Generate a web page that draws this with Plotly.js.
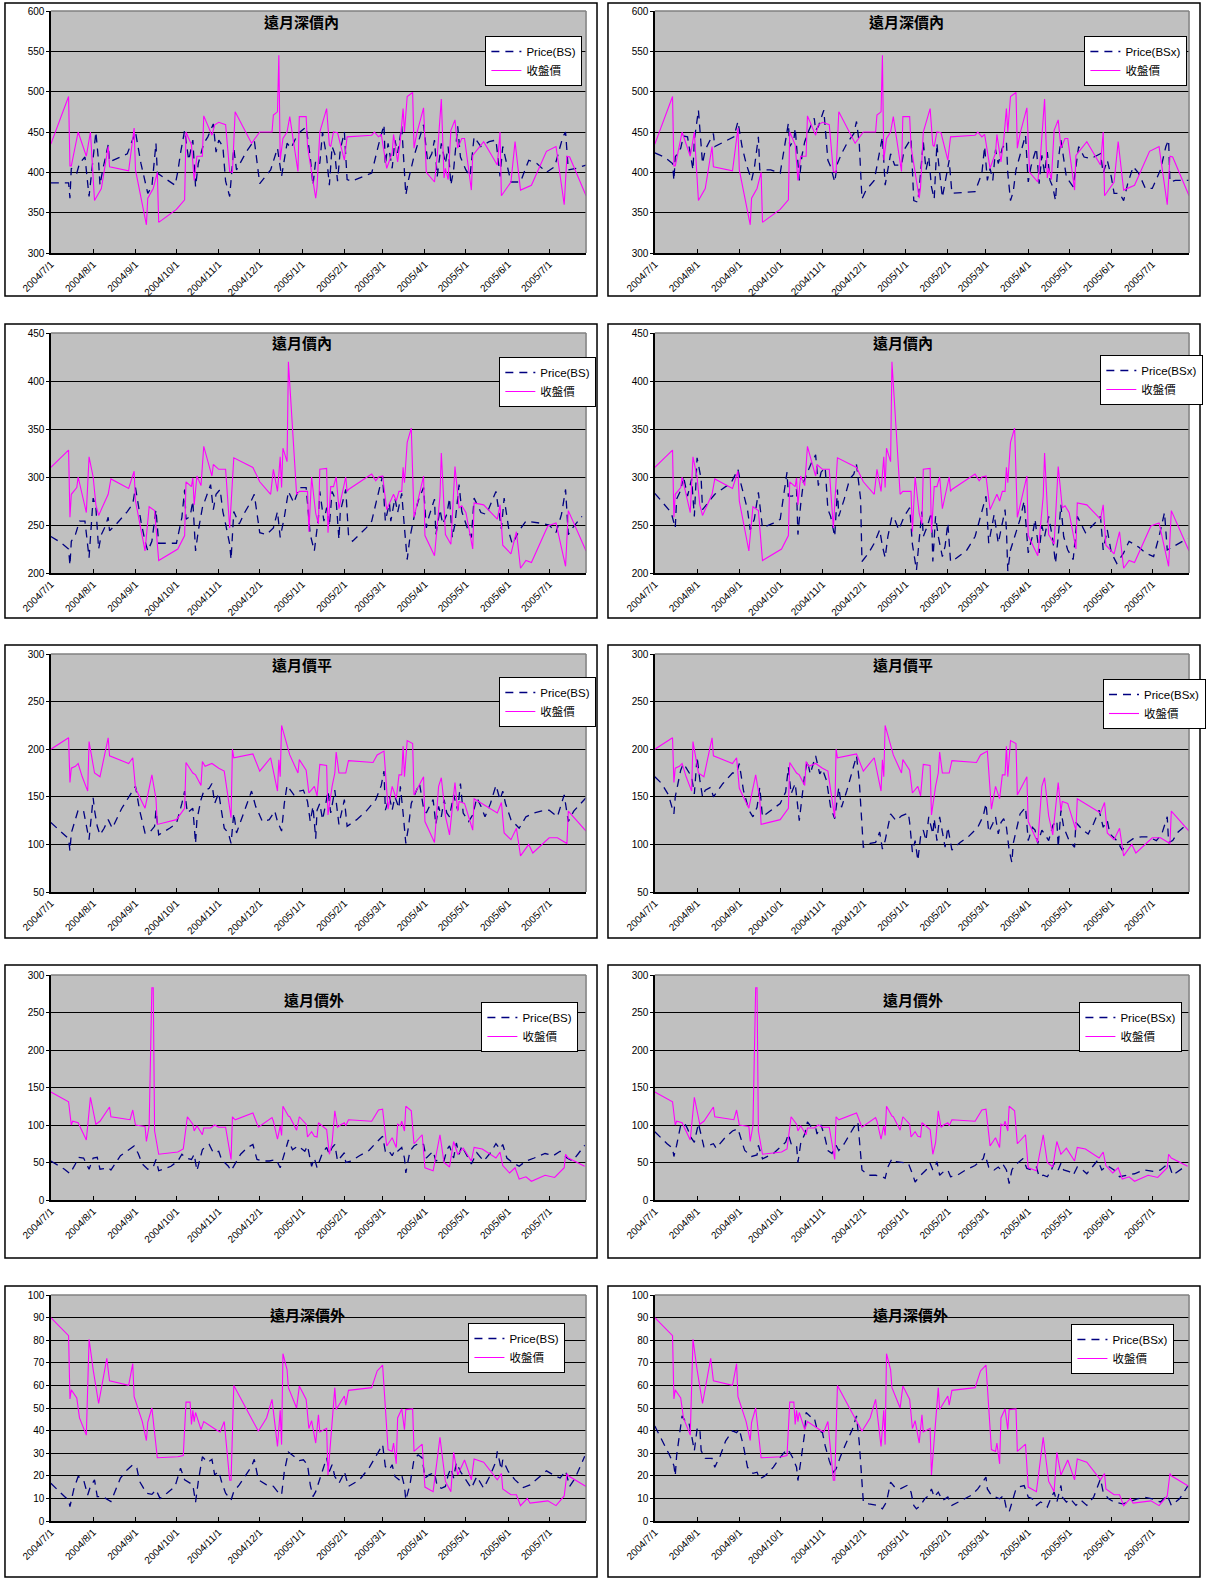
<!DOCTYPE html>
<html><head><meta charset="utf-8">
<script src="https://cdn.plot.ly/plotly-3.0.1.min.js"></script>
<style>html,body{margin:0;padding:0;background:#fff}#chart{width:1206px;height:1579px}</style>
</head><body><div id="chart"></div>
<script>
// ---------- DATA (x = trading-day offset from 2004/7/1, y = price) ----------
const startDate = '2004-07-01';
const lastDay = 392;
const monthTickLabels = ['2004/7/1','2004/8/1','2004/9/1','2004/10/1','2004/11/1','2004/12/1','2005/1/1','2005/2/1','2005/3/1','2005/4/1','2005/5/1','2005/6/1','2005/7/1'];
const panelTitles = ['遠月深價內','遠月價內','遠月價平','遠月價外','遠月深價外'];
const seriesNames = ['Price(BS)','Price(BSx)','收盤價'];

// 遠月深價內
const deepItmClose = [[0,435],[13,494],[14,408],[15,408],[20,450],[26,420],[29,450],[32,365],[37,380],[42,432],[43,407],[57,402],[61,455],[62,403],[70,335],[71,368],[75,380],[78,400],[79,338],[92,354],[98,366],[99,450],[103,434],[105,390],[107,420],[111,420],[112,470],[118,446],[120,459],[123,462],[128,459],[131,401],[133,400],[135,475],[147,436],[153,450],[162,450],[163,471],[166,475],[167,545],[168,415],[170,442],[173,450],[175,469],[181,401],[182,469],[187,469],[188,432],[194,368],[195,382],[197,450],[202,479],[204,434],[205,432],[207,450],[210,449],[215,415],[217,444],[235,446],[237,450],[240,444],[242,447],[246,405],[250,424],[251,447],[254,413],[256,440],[258,479],[259,450],[261,494],[265,499],[266,430],[268,448],[273,480],[275,400],[281,388],[283,420],[286,491],[288,393],[289,405],[291,391],[293,452],[296,465],[298,430],[301,442],[303,442],[308,378],[309,421],[317,438],[327,409],[329,450],[330,371],[337,388],[340,438],[344,378],[352,384],[363,426],[370,432],[376,360],[378,420],[380,419],[392,371]];
const deepItmBS = [[0,387],[7,387],[13,387],[14,368],[15,405],[19,399],[21,411],[25,419],[28,370],[33,450],[35,413],[36,384],[38,403],[42,434],[43,413],[56,423],[62,450],[66,411],[71,374],[74,382],[77,436],[78,399],[91,384],[93,401],[95,424],[98,452],[101,415],[104,440],[106,382],[108,411],[112,436],[115,444],[119,460],[121,425],[123,440],[126,432],[128,389],[131,370],[134,430],[136,403],[143,425],[149,440],[153,386],[161,403],[166,430],[169,395],[173,436],[176,430],[181,448],[187,456],[190,419],[192,384],[194,415],[197,411],[199,450],[202,419],[204,384],[206,432],[208,423],[210,389],[212,428],[215,450],[217,391],[220,389],[235,399],[240,434],[244,459],[245,409],[247,436],[250,405],[252,440],[254,424],[257,457],[260,372],[262,391],[266,420],[273,459],[276,413],[279,423],[281,440],[283,395],[286,436],[289,411],[291,432],[293,384],[295,403],[298,457],[300,419],[304,403],[307,395],[310,444],[315,432],[321,438],[326,440],[329,395],[331,432],[335,405],[337,388],[344,388],[350,415],[356,411],[363,400],[369,407],[375,444],[377,450],[379,403],[385,405],[392,409]];
const deepItmBSx = [[0,424],[7,419],[13,411],[14,390],[15,419],[19,430],[21,445],[24,444],[28,403],[29,440],[32,477],[34,432],[35,411],[37,428],[43,448],[44,432],[58,444],[61,463],[64,432],[67,411],[71,390],[73,405],[76,444],[77,403],[85,403],[92,399],[96,444],[98,461],[99,432],[102,440],[103,455],[106,390],[108,421],[110,438],[113,452],[117,467],[118,452],[120,457],[124,477],[126,442],[127,415],[129,407],[132,388],[134,411],[137,423],[141,436],[146,448],[148,463],[150,436],[152,367],[155,378],[161,390],[165,423],[167,444],[169,384],[172,411],[173,423],[176,409],[181,409],[183,428],[188,442],[190,365],[193,363],[195,399],[197,438],[199,403],[201,419],[203,382],[205,367],[207,436],[208,415],[211,369],[213,388],[216,415],[218,374],[230,376],[235,376],[240,399],[242,432],[244,390],[246,405],[248,390],[250,428],[252,411],[255,430],[258,438],[259,399],[261,365],[263,376],[265,403],[268,423],[272,446],[274,388],[276,407],[278,419],[280,430],[282,386],[284,421],[286,399],[288,425],[290,390],[292,382],[294,365],[296,415],[298,440],[300,415],[302,394],[307,382],[311,432],[315,419],[320,417],[327,423],[329,399],[332,415],[335,394],[337,374],[341,374],[344,365],[347,386],[351,407],[355,399],[360,380],[365,380],[371,403],[375,432],[377,440],[378,388],[382,390],[392,390]];

// 遠月價內
const itmClose = [[0,310],[13,328],[14,258],[15,282],[19,289],[20,300],[26,263],[28,321],[31,300],[33,271],[35,260],[42,282],[44,298],[57,288],[61,306],[62,275],[69,223],[72,269],[76,265],[79,213],[93,225],[98,239],[99,295],[103,290],[104,299],[105,271],[107,301],[110,291],[112,332],[118,301],[119,313],[123,308],[128,308],[131,247],[134,320],[148,310],[153,295],[161,282],[163,308],[166,285],[168,321],[169,289],[170,330],[173,316],[174,420],[180,282],[182,285],[188,285],[189,243],[191,300],[194,262],[196,251],[197,308],[202,309],[203,242],[205,290],[207,290],[209,300],[211,267],[216,300],[217,285],[218,287],[235,303],[238,296],[240,300],[243,301],[246,266],[251,282],[253,275],[255,285],[257,285],[258,310],[259,294],[261,336],[264,351],[266,258],[273,301],[274,239],[281,218],[285,280],[286,325],[289,240],[293,230],[296,311],[299,268],[301,270],[304,263],[309,225],[310,273],[317,271],[327,256],[329,271],[331,229],[337,220],[341,243],[344,205],[348,213],[352,211],[364,249],[370,252],[377,207],[379,265],[392,223]];
const itmBS = [[0,238],[7,232],[13,225],[14,208],[15,233],[18,240],[21,254],[25,254],[28,216],[31,278],[33,268],[35,225],[37,240],[40,249],[42,258],[43,244],[48,251],[56,264],[60,272],[62,289],[66,254],[69,233],[71,223],[74,233],[77,266],[79,231],[92,231],[96,258],[98,287],[99,256],[102,259],[104,275],[106,223],[108,244],[111,268],[114,280],[117,292],[119,266],[121,282],[124,287],[126,264],[128,251],[131,230],[132,214],[134,264],[138,251],[142,263],[146,273],[149,282],[153,242],[158,240],[163,247],[166,264],[168,237],[171,258],[174,285],[178,273],[182,289],[187,289],[190,240],[193,223],[196,258],[197,285],[200,254],[202,268],[204,249],[206,285],[209,275],[211,235],[212,264],[216,287],[218,240],[221,233],[231,247],[235,254],[241,290],[243,301],[245,254],[248,273],[249,254],[252,278],[254,263],[257,283],[259,247],[261,214],[263,237],[266,258],[269,275],[273,289],[275,247],[277,259],[281,277],[282,240],[285,266],[287,251],[290,261],[292,278],[294,237],[296,251],[299,292],[301,264],[305,247],[308,237],[310,278],[315,263],[319,261],[326,285],[330,246],[332,278],[336,240],[338,230],[343,244],[348,254],[358,252],[365,250],[370,242],[374,261],[377,287],[379,240],[381,245],[389,259]];
const itmBSx = [[0,283],[6,273],[12,263],[15,247],[16,277],[19,286],[21,301],[24,280],[27,298],[29,259],[31,320],[34,298],[35,266],[40,275],[44,282],[49,287],[56,294],[61,308],[63,294],[68,266],[70,245],[73,256],[76,284],[79,247],[87,252],[92,256],[95,284],[97,305],[98,280],[101,280],[104,287],[105,240],[107,271],[109,294],[112,305],[115,315],[118,323],[120,291],[122,305],[125,310],[127,266],[129,259],[132,238],[134,287],[135,259],[139,277],[143,298],[146,303],[148,313],[151,277],[152,212],[157,221],[161,231],[165,245],[167,228],[169,216],[171,238],[174,259],[176,256],[179,245],[183,259],[187,268],[189,230],[192,203],[194,235],[196,264],[197,238],[200,249],[203,263],[204,212],[206,259],[208,238],[211,217],[213,228],[215,252],[217,212],[220,214],[229,224],[235,238],[239,259],[243,280],[245,231],[247,245],[249,261],[252,231],[254,245],[257,266],[258,245],[259,202],[261,224],[264,238],[268,256],[271,275],[274,221],[277,238],[279,256],[282,221],[284,249],[286,238],[289,259],[292,235],[294,210],[296,238],[298,271],[300,238],[303,224],[307,214],[310,259],[316,242],[323,252],[327,259],[329,224],[332,245],[335,221],[339,210],[344,221],[348,233],[355,227],[360,221],[366,217],[370,238],[374,263],[376,224],[380,227],[391,236]];

// 遠月價平
const atmClose = [[0,200],[13,212],[14,165],[15,180],[18,182],[20,185],[23,171],[27,156],[28,208],[32,175],[36,171],[42,212],[43,193],[57,185],[60,191],[62,159],[69,138],[71,152],[74,173],[77,148],[78,121],[92,126],[98,138],[99,186],[104,175],[106,173],[110,162],[111,187],[113,182],[118,185],[123,180],[127,177],[132,128],[133,200],[134,191],[148,195],[153,177],[161,191],[163,178],[166,156],[167,189],[168,171],[169,225],[175,194],[181,175],[182,189],[187,178],[189,154],[193,161],[195,151],[197,184],[202,183],[203,131],[206,161],[208,175],[209,197],[211,175],[216,175],[218,188],[236,186],[239,194],[244,198],[247,137],[250,161],[253,148],[255,173],[257,173],[258,203],[259,171],[261,209],[265,206],[266,152],[273,171],[274,124],[281,102],[284,161],[286,170],[289,130],[292,110],[296,165],[298,135],[299,145],[303,143],[309,115],[310,148],[327,133],[330,144],[332,112],[337,105],[341,117],[344,88],[350,100],[353,91],[365,107],[371,107],[378,101],[379,135],[392,114]];
const atmBS = [[0,123],[4,118],[8,112],[13,106],[14,93],[15,112],[20,136],[24,135],[28,105],[31,149],[32,136],[34,119],[36,110],[39,117],[42,126],[45,117],[52,138],[57,150],[62,161],[65,136],[69,112],[72,112],[76,119],[77,136],[79,110],[87,117],[92,122],[96,143],[98,156],[100,133],[104,138],[106,101],[107,126],[110,147],[112,156],[116,159],[118,164],[120,143],[123,154],[125,135],[127,117],[130,112],[132,101],[134,133],[136,112],[139,124],[143,140],[147,156],[150,140],[155,124],[160,126],[164,135],[166,124],[169,114],[171,143],[173,162],[178,152],[182,156],[185,157],[188,145],[190,124],[192,140],[194,106],[195,136],[197,143],[199,126],[201,140],[203,156],[205,133],[207,147],[208,157],[211,121],[213,135],[215,147],[217,119],[224,126],[231,135],[238,147],[242,162],[244,177],[245,136],[248,150],[250,136],[252,150],[255,138],[256,161],[258,133],[260,101],[262,119],[264,143],[267,154],[270,164],[273,138],[275,133],[278,142],[280,147],[282,121],[284,140],[286,129],[288,147],[290,133],[292,129],[295,152],[298,136],[300,164],[302,133],[306,124],[309,131],[312,149],[315,140],[318,129],[322,143],[326,162],[329,147],[331,156],[333,143],[337,126],[343,117],[348,129],[354,133],[359,135],[365,136],[371,129],[376,152],[379,124],[383,135],[392,149]];
const atmBSx = [[0,171],[5,164],[10,152],[14,132],[15,150],[19,178],[21,185],[24,178],[27,171],[29,153],[31,192],[33,168],[35,150],[37,157],[41,160],[43,150],[50,164],[57,175],[60,175],[62,185],[65,157],[69,136],[72,129],[75,139],[77,160],[79,129],[86,137],[92,143],[96,155],[98,181],[100,153],[103,164],[106,125],[108,150],[110,174],[112,188],[114,174],[118,193],[121,174],[123,179],[126,167],[129,139],[132,127],[135,160],[137,139],[141,157],[144,172],[148,193],[150,167],[152,125],[153,97],[158,101],[162,102],[165,113],[167,95],[169,104],[171,118],[173,132],[177,125],[181,130],[186,133],[187,123],[189,92],[191,104],[193,83],[195,108],[197,115],[199,104],[201,129],[204,111],[205,127],[207,104],[209,129],[211,111],[213,97],[215,118],[218,94],[224,102],[230,108],[237,118],[241,130],[243,143],[245,113],[248,122],[250,129],[252,111],[254,123],[256,127],[258,118],[260,94],[262,81],[263,101],[266,118],[268,132],[272,139],[274,104],[277,118],[279,115],[281,101],[284,115],[286,111],[289,104],[292,120],[295,125],[296,97],[298,136],[300,118],[304,104],[308,97],[309,123],[314,115],[318,111],[322,122],[326,136],[329,118],[332,125],[334,111],[339,104],[343,94],[347,102],[351,106],[357,108],[362,108],[368,104],[372,111],[376,129],[377,102],[380,104],[384,113],[391,122]];

// 遠月價外
const otmClose = [[0,144],[13,131],[15,100],[16,105],[20,103],[26,80],[29,137],[33,101],[36,105],[43,124],[44,111],[58,107],[60,120],[62,100],[69,98],[70,78],[72,99],[74,283],[75,283],[76,92],[79,61],[93,64],[97,68],[100,111],[104,101],[105,92],[107,99],[111,87],[112,96],[117,96],[120,100],[123,97],[128,97],[132,54],[133,111],[135,107],[148,116],[152,97],[162,110],[163,105],[166,81],[168,99],[169,86],[170,125],[174,112],[175,111],[180,93],[182,111],[187,101],[188,84],[191,91],[193,85],[195,84],[196,103],[202,94],[204,61],[206,76],[208,119],[210,97],[212,100],[215,103],[216,99],[218,107],[235,105],[240,120],[243,121],[246,72],[250,83],[253,70],[254,101],[256,99],[257,105],[259,92],[260,125],[264,119],[266,75],[272,87],[274,43],[280,39],[285,87],[288,50],[292,44],[295,78],[298,61],[302,69],[308,52],[310,70],[316,68],[326,56],[329,64],[331,46],[336,36],[340,43],[343,28],[348,31],[352,25],[362,33],[369,30],[376,43],[377,61],[379,56],[391,45]];
const otmBS = [[0,52],[6,45],[10,41],[14,35],[18,48],[20,57],[24,56],[28,41],[31,56],[34,57],[36,41],[42,43],[44,40],[51,59],[57,67],[61,72],[64,62],[67,48],[71,41],[75,44],[77,54],[79,39],[88,45],[93,52],[96,61],[99,56],[103,54],[105,61],[107,39],[111,67],[113,71],[116,74],[119,63],[123,65],[125,54],[130,45],[132,39],[135,48],[139,61],[144,70],[148,74],[151,54],[155,52],[160,52],[165,54],[168,43],[171,61],[174,80],[177,67],[181,72],[186,65],[188,72],[191,45],[193,56],[195,43],[197,53],[199,63],[202,70],[204,61],[206,70],[208,74],[210,52],[212,56],[215,63],[216,50],[220,52],[226,59],[233,66],[237,74],[243,85],[245,65],[247,67],[250,59],[252,67],[254,65],[257,70],[259,56],[260,36],[263,65],[266,72],[270,76],[273,74],[275,56],[278,61],[280,65],[282,52],[285,54],[288,52],[290,67],[292,72],[295,56],[297,76],[299,61],[301,72],[304,61],[308,48],[312,63],[317,52],[322,63],[326,75],[329,68],[331,74],[334,56],[338,50],[343,45],[348,52],[354,56],[362,62],[368,59],[373,65],[378,56],[382,52],[386,61],[391,73]];
const otmBSx = [[0,91],[5,82],[9,75],[13,69],[14,58],[16,73],[19,100],[22,102],[24,95],[27,82],[29,77],[32,102],[34,88],[36,71],[40,73],[43,75],[45,69],[51,82],[57,92],[61,95],[64,77],[66,66],[71,58],[75,60],[76,73],[79,55],[87,62],[92,71],[96,77],[98,88],[100,75],[104,73],[105,50],[107,75],[110,88],[112,104],[115,97],[118,97],[119,88],[122,100],[125,82],[127,66],[130,62],[133,73],[135,66],[139,75],[143,88],[147,100],[149,104],[151,66],[152,40],[157,33],[162,33],[167,31],[169,29],[171,44],[174,55],[177,51],[181,50],[186,49],[189,35],[191,24],[194,31],[196,35],[199,40],[202,49],[204,40],[206,46],[207,51],[209,33],[212,38],[215,40],[217,31],[222,33],[228,40],[235,46],[241,55],[242,62],[245,44],[247,44],[249,40],[252,44],[254,40],[256,46],[258,40],[260,22],[262,40],[264,46],[267,51],[270,55],[273,42],[277,40],[280,44],[282,31],[285,33],[288,31],[291,40],[293,49],[296,40],[298,49],[300,40],[304,38],[307,33],[310,44],[314,40],[317,35],[321,44],[325,53],[328,40],[332,46],[337,40],[341,31],[346,33],[352,35],[359,40],[366,38],[371,40],[377,49],[380,33],[385,40],[390,46]];

// 遠月深價外
const deepOtmClose = [[0,90],[13,82],[14,54],[15,58],[19,54.5],[21,45.6],[26,38],[28,80.4],[31,67],[35,52],[41,72],[43,62],[57,60],[60,69.6],[61,55],[67,44],[70,35.6],[71,43.7],[74,50],[78,28],[93,28.4],[97,29],[99,52.6],[102,52.6],[103,42.7],[104,49],[105,44],[106,48],[110,40.4],[112,44],[121,40.4],[124,39.4],[127,44],[131,18],[132,18],[134,60],[152,39.7],[158,45.6],[162,53.8],[165,36],[166,33],[168,49],[169,33.8],[170,74],[173,67],[174,59],[180,50],[182,59.7],[187,53.8],[189,40.9],[191,44.4],[194,34.5],[196,47],[197,39.4],[202,41],[203,20.4],[208,59],[209,49.3],[215,55.3],[216,51.3],[218,57.8],[235,59],[239,66.4],[243,69],[247,31.6],[250,30.8],[251,34.5],[253,25.3],[254,45.6],[257,49.6],[259,40.4],[260,49.3],[265,49.6],[266,30.8],[272,34],[274,15],[280,13],[285,37],[289,17.5],[293,13],[295,30.4],[298,20.4],[303,27],[308,18.2],[310,27.4],[317,26],[327,18.2],[330,21],[331,14.2],[337,11.6],[341,11.6],[344,6.8],[349,10],[351,7.9],[364,8.9],[370,6.8],[376,11.1],[378,21],[379,20],[392,15.3]];
const deepOtmBS = [[0,16.7],[6,13],[10,10.8],[13,9.3],[14,6.4],[17,14.5],[20,19.7],[24,18.2],[27,11.5],[29,15.3],[32,18.2],[34,10.8],[38,10.8],[44,8.6],[47,13],[51,19],[56,22.7],[60,24.9],[63,23.4],[65,17.5],[70,12.3],[74,11.8],[77,13.8],[80,10],[85,12.3],[91,15.3],[95,23.4],[98,18.2],[104,16],[106,8.3],[108,17.5],[111,28.4],[115,25.9],[118,27.3],[120,20.4],[123,21.9],[125,17.5],[128,12.3],[132,9.3],[134,13],[138,16],[142,19.7],[147,24.1],[149,27.3],[152,18.2],[158,16],[163,15.3],[166,13],[169,11.5],[171,21.9],[174,30.5],[178,28.6],[182,26.7],[185,27.1],[188,24.9],[190,16],[192,10.8],[194,13],[196,16.7],[199,22.7],[202,27.9],[204,21.9],[206,24.9],[208,19.7],[211,16.7],[213,19],[215,21.9],[218,15.3],[226,18.2],[233,23.4],[239,29.3],[243,33.8],[245,24.1],[248,22.7],[250,24.9],[252,19.7],[255,18.2],[257,20.4],[259,15.3],[260,9.3],[263,16],[266,27.3],[269,29.3],[272,27.9],[274,19],[277,20.4],[281,21.5],[283,15.3],[286,14.5],[289,15.3],[291,20.4],[293,23.4],[295,19],[297,25.8],[300,21.9],[303,19],[308,14.5],[312,19.7],[317,14.5],[322,20.4],[326,26.4],[327,30.8],[330,22.7],[331,27.1],[335,21.9],[340,18.2],[346,14.8],[351,16],[357,19],[363,22.2],[368,20.4],[373,19],[377,22.2],[380,15.3],[384,19],[391,28.6]];
const deepOtmBSx = [[0,42],[3,38.4],[7,33.3],[11,28.9],[14,24.5],[15,20],[16,28.9],[18,37.7],[20,46.5],[23,43.5],[25,43.5],[27,37.7],[29,31.1],[31,40.6],[33,41.3],[34,31.1],[37,27.7],[42,27.7],[44,23.8],[48,28.9],[52,35.5],[57,39.9],[60,39.1],[62,40.6],[65,33.3],[68,23.8],[72,21.1],[75,21.6],[77,18.6],[81,20],[87,23.8],[92,28.2],[97,31.8],[99,30.4],[101,28.2],[104,23.8],[105,17.9],[107,26],[110,39.1],[111,48],[115,45.7],[117,45.7],[119,40.6],[123,39.1],[125,33.3],[128,26.7],[131,21.6],[133,23],[136,28.2],[140,34],[145,40.6],[148,46.5],[150,34.8],[152,17.2],[153,8.4],[157,7.6],[163,6.9],[167,5.4],[170,8.4],[173,17.2],[176,15],[180,14.2],[185,15.7],[188,12.8],[190,6.9],[192,5.4],[195,6.9],[198,9.8],[201,11.3],[203,14.2],[205,10.6],[208,12.8],[211,9.1],[213,9.8],[215,10.6],[218,6.9],[225,9.1],[232,11.3],[237,14.2],[243,19.4],[244,14.2],[247,11.3],[250,10.6],[253,9.8],[256,11.3],[258,5.4],[260,4],[262,8.4],[265,14.2],[267,15],[271,15.7],[274,10.6],[277,9.8],[280,6.9],[283,8.4],[286,7.6],[288,6.2],[291,10.6],[293,12.8],[295,8.4],[298,15.7],[299,10.6],[302,8.4],[305,9.8],[309,6.9],[313,9.1],[317,6.9],[322,10.6],[327,18.6],[329,12.8],[333,9.8],[337,8.4],[343,7.6],[348,8.4],[354,9.8],[359,10.6],[365,9.8],[371,8.4],[376,11.3],[379,6.9],[385,9.8],[391,15.4]];

const closeSeries = [deepItmClose, itmClose, atmClose, otmClose, deepOtmClose];
const bsSeries = [deepItmBS, itmBS, atmBS, otmBS, deepOtmBS];
const bsxSeries = [deepItmBSx, itmBSx, atmBSx, otmBSx, deepOtmBSx];
const yRanges = [[300,600],[200,450],[50,300],[0,300],[0,100]];
const yDticks = [50,50,50,50,10];

// ---------- LAYOUT (pixel geometry of the page) ----------
const W = 1206, H = 1579;
const colPlotX = [[51,588],[657,1193]];
const rowPlotY = [[11,253],[333,573],[654,892],[975,1200],[1295,1521]];
const colBoxX = [[5,599],[610,1204]];
const rowBoxY = [[3,296],[324,618],[645,938],[965,1258],[1286,1577]];
const legendPos = [[[487,36],[1088,36]],[[501,357],[1104,355]],[[501,677],[1107,679]],[[483,1002],[1083,1002]],[[470,1323],[1075,1324]]];
const titlePos = [[[303,22],[910,22]],[[303,343],[906,343]],[[303,664],[906,664]],[[315,999],[916,999]],[[309,1314],[914,1314]]];

const px = v => v / W;
const py = v => 1 - v / H;
function toDate(d) { return new Date(Date.UTC(2004, 6, 1) + d * 86400000).toISOString().slice(0, 10); }
const tickVals = monthTickLabels.map(l => { const p = l.split('/'); return p[0] + '-' + p[1].padStart(2,'0') + '-' + p[2].padStart(2,'0'); });

const latin = 'Liberation Sans, Arial, Noto Sans CJK TC, sans-serif';
const cjk = 'Noto Sans CJK TC, Liberation Sans, sans-serif';

const traces = [];
const layout = {
  width: W, height: H, margin: {l:0, r:0, t:0, b:0},
  paper_bgcolor: '#ffffff', plot_bgcolor: '#c0c0c0',
  showlegend: true, shapes: [], annotations: [],
  font: {family: latin, color: '#000'}
};

for (let r = 0; r < 5; r++) {
  for (let c = 0; c < 2; c++) {
    const i = r * 2 + c;
    const n = i === 0 ? '' : String(i + 1);
    const xa = 'x' + n, ya = 'y' + n;
    const lg = 'legend' + n;
    const priceData = c === 0 ? bsSeries[r] : bsxSeries[r];
    const closeData = closeSeries[r];
    traces.push({
      type: 'scatter', mode: 'lines', name: seriesNames[c],
      x: priceData.map(p => toDate(p[0])), y: priceData.map(p => p[1]),
      xaxis: xa, yaxis: ya, legend: lg,
      line: {color: '#000080', width: 1.3, dash: '8px,6px'}, hoverinfo: 'skip'
    });
    traces.push({
      type: 'scatter', mode: 'lines', name: seriesNames[2],
      x: closeData.map(p => toDate(p[0])), y: closeData.map(p => p[1]),
      xaxis: xa, yaxis: ya, legend: lg,
      line: {color: '#ff00ff', width: 1.1}, hoverinfo: 'skip'
    });
    layout['xaxis' + n] = {
      domain: [px(colPlotX[c][0]), px(colPlotX[c][1])], anchor: ya,
      type: 'date', range: [startDate, toDate(lastDay)],
      tickmode: 'array', tickvals: tickVals, ticktext: monthTickLabels,
      tickangle: -45, tickfont: {size: 10, family: latin, color: '#000'},
      ticks: 'inside', ticklen: 4, tickcolor: '#000',
      showline: true, linecolor: '#000', linewidth: 1.5,
      showgrid: false, zeroline: false, fixedrange: true
    };
    layout['yaxis' + n] = {
      domain: [py(rowPlotY[r][1]), py(rowPlotY[r][0])], anchor: xa,
      range: yRanges[r], tick0: yRanges[r][0], dtick: yDticks[r],
      showgrid: true, gridcolor: '#000', gridwidth: 1,
      showline: true, linecolor: '#000', linewidth: 1.5,
      ticks: 'outside', ticklen: 3, tickcolor: '#000',
      tickfont: {size: 10, family: latin, color: '#000'},
      zeroline: false, fixedrange: true
    };
    layout[lg] = {
      x: px(legendPos[r][c][0]), y: py(legendPos[r][c][1]),
      xref: 'paper', yref: 'paper', xanchor: 'left', yanchor: 'top',
      bgcolor: '#ffffff', bordercolor: '#000', borderwidth: 1,
      font: {size: 11.5, family: latin, color: '#000'},
      itemwidth: 30, tracegroupgap: 0
    };
    layout.shapes.push({type: 'rect', xref: 'paper', yref: 'paper',
      x0: px(colBoxX[c][0]), x1: px(colBoxX[c][1]), y0: py(rowBoxY[r][1]), y1: py(rowBoxY[r][0]),
      line: {color: '#000', width: 1.5}, fillcolor: 'rgba(0,0,0,0)'});
    layout.shapes.push({type: 'line', xref: xa + ' domain', yref: ya + ' domain', x0: 0, x1: 1, y0: 1, y1: 1, line: {color: '#808080', width: 1.5}});
    layout.shapes.push({type: 'line', xref: xa + ' domain', yref: ya + ' domain', x0: 1, x1: 1, y0: 0, y1: 1, line: {color: '#808080', width: 1.5}});
    layout.annotations.push({
      text: panelTitles[r], xref: 'paper', yref: 'paper',
      x: px(titlePos[r][c][0]), y: py(titlePos[r][c][1]), xanchor: 'center', yanchor: 'middle',
      showarrow: false, font: {size: 15, family: cjk, color: '#000', weight: 'bold'}
    });
  }
}

Plotly.newPlot('chart', traces, layout, {displayModeBar: false, staticPlot: true});
</script>
</body></html>
